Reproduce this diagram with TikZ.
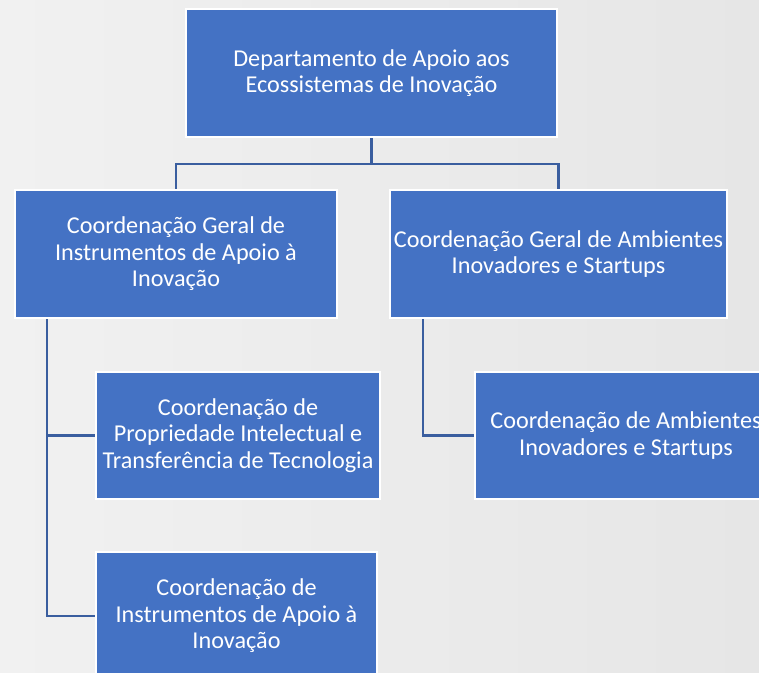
\documentclass[tikz,border=0pt]{standalone}
\usepackage{fontspec}
\setmainfont{Carlito}
\usetikzlibrary{calc}
\definecolor{boxblue}{HTML}{4472C4}
\definecolor{linkblue}{HTML}{3A5E9F}
\definecolor{bgA}{RGB}{241,241,241}
\definecolor{bgB}{RGB}{230,230,230}
\begin{document}
\begin{tikzpicture}[x=1pt,y=-1pt,
  orgbox/.style={rectangle, fill=boxblue, draw=white, line width=2.2pt, inner sep=0pt,
    align=center, text=white, font=\fontsize{24.2}{26.6}\selectfont, minimum height=128pt},
  link/.style={draw=linkblue, line width=2.6pt}]
\useasboundingbox (0,0) rectangle (759,672);
\clip (0,0) rectangle (759,672);
\shade[left color=bgA, right color=bgB] (0,0) rectangle (759,672);

\node[orgbox, minimum width=371pt] (top) at (371.5,73) {Departamento de Apoio aos\\Ecossistemas de Inovação};
\node[orgbox, minimum width=322pt] (midL) at (176,254) {Coordenação Geral de\\Instrumentos de Apoio à\\Inovação};
\node[orgbox, minimum width=337pt] (midR) at (558.5,254) {Coordenação Geral de Ambientes\\Inovadores e Startups};
\node[orgbox, minimum width=284pt, minimum height=127pt] (cL1) at (238,435.5) {Coordenação de\\Propriedade Intelectual e\\Transferência de Tecnologia};
\node[orgbox, minimum width=281pt] (cL2) at (236.5,616) {Coordenação de\\Instrumentos de Apoio à\\Inovação};
\node[orgbox, minimum width=302pt, minimum height=127pt] (cR) at (626,435.5) {Coordenação de Ambientes\\Inovadores e Startups};

\coordinate (bus) at ($(top.south)+(0,26)$);
\coordinate (spL) at ($(midL.south west)+(33,0)$);
\coordinate (spR) at ($(midR.south west)+(34,0)$);

\draw[link] (top.south) -- (bus) -| (midL.north);
\draw[link] (bus) -| (midR.north);
\draw[link] (spL) |- (cL1.west);
\draw[link] (spL) |- (cL2.west);
\draw[link] (spR) |- (cR.west);
\end{tikzpicture}
\end{document}
